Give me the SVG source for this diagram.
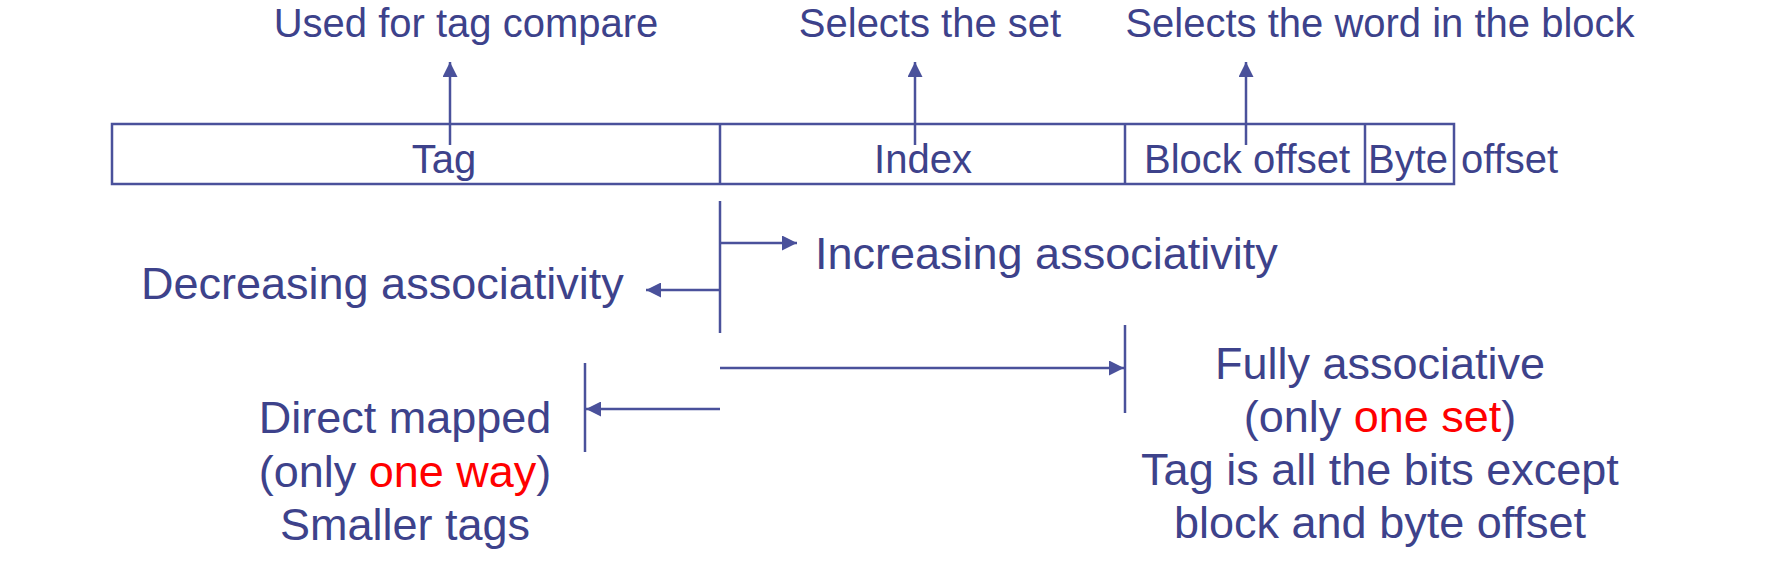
<svg xmlns="http://www.w3.org/2000/svg" width="1770" height="579" viewBox="0 0 1770 579">
<defs>
<marker id="ah" viewBox="0 0 10 10" refX="10" refY="5" markerWidth="6" markerHeight="6" markerUnits="strokeWidth" orient="auto">
<path d="M0,0 L10,5 L0,10 Z" fill="#4a519b"/>
</marker>
<style>
text{font-family:"Liberation Sans",Arial,sans-serif;fill:#3d428b}
.s{font-size:40px}
.b{font-size:40px}
.l{font-size:45px}
.red{fill:#ff0000}
.ln{stroke:#4a519b;stroke-width:2.5;fill:none}
.ar{stroke:#4a519b;stroke-width:2.5;fill:none;marker-end:url(#ah)}
</style>
</defs>
<rect width="1770" height="579" fill="#ffffff"/>
<g id="address">
<rect class="ln" x="112" y="124" width="1342" height="60"/>
<line class="ln" x1="720" y1="124" x2="720" y2="184"/>
<line class="ln" x1="1125" y1="124" x2="1125" y2="184"/>
<line class="ln" x1="1365" y1="124" x2="1365" y2="184"/>
<text class="b" x="444" y="173" text-anchor="middle">Tag</text>
<text class="b" x="923" y="173" text-anchor="middle">Index</text>
<text class="b" x="1247" y="173" text-anchor="middle">Block offset</text>
<text class="b" x="1408" y="173" text-anchor="middle">Byte</text>
<text class="b" x="1461" y="173">offset</text>
</g>
<g id="labels-top">
<text class="s" x="466" y="37" text-anchor="middle">Used for tag compare</text>
<text class="s" x="930" y="37" text-anchor="middle">Selects the set</text>
<text class="s" x="1380" y="37" text-anchor="middle">Selects the word in the block</text>
</g>
<g id="increasing">
<text class="l" x="815" y="269">Increasing associativity</text>
</g>
<g id="decreasing">
<text class="l" x="141" y="299">Decreasing associativity</text>
</g>
<g id="direct-mapped">
<text class="l" x="405" y="433" text-anchor="middle">Direct mapped</text>
<text class="l" x="405" y="487" text-anchor="middle">(only <tspan class="red">one way</tspan>)</text>
<text class="l" x="405" y="540" text-anchor="middle">Smaller tags</text>
</g>
<g id="fully-associative">
<text class="l" x="1380" y="379" text-anchor="middle">Fully associative</text>
<text class="l" x="1380" y="432" text-anchor="middle">(only <tspan class="red">one set</tspan>)</text>
<text class="l" x="1380" y="485" text-anchor="middle">Tag is all the bits except</text>
<text class="l" x="1380" y="538" text-anchor="middle">block and byte offset</text>
</g>
<g id="connectors">
<line class="ar" x1="450" y1="145" x2="450" y2="62"/>
<line class="ar" x1="915" y1="145" x2="915" y2="62"/>
<line class="ar" x1="1246" y1="145" x2="1246" y2="62"/>
<line class="ln" x1="720" y1="201" x2="720" y2="333"/>
<line class="ar" x1="720" y1="243" x2="797" y2="243"/>
<line class="ar" x1="720" y1="290" x2="646" y2="290"/>
<line class="ar" x1="720" y1="368" x2="1124" y2="368"/>
<line class="ln" x1="1125" y1="325" x2="1125" y2="413"/>
<line class="ar" x1="720" y1="409" x2="586" y2="409"/>
<line class="ln" x1="585" y1="363" x2="585" y2="452"/>
</g>
</svg>
